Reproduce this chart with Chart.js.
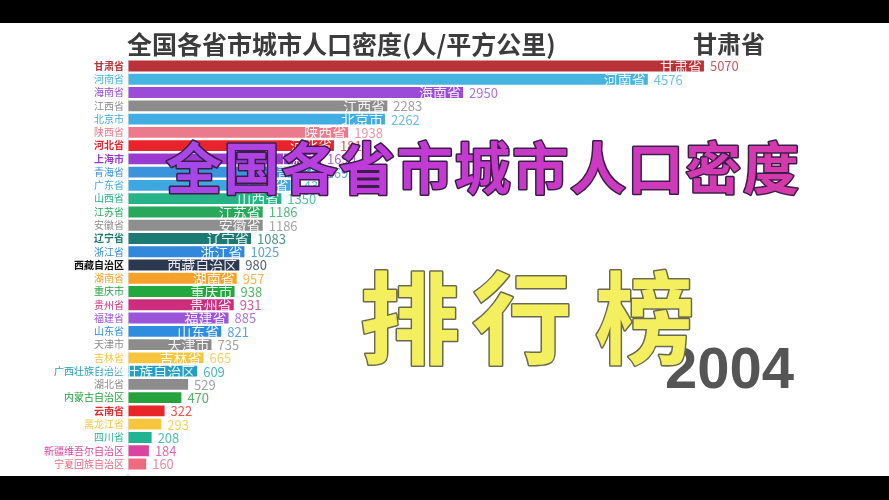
<!DOCTYPE html>
<html>
<head>
<meta charset="utf-8">
<script src="https://cdn.jsdelivr.net/npm/chart.js@4"></script>
<style>
html,body{margin:0;padding:0;background:#000;}
#wrap{position:absolute;left:0;top:0;width:889px;height:500px;}
</style>
</head>
<body>
<div id="wrap"><canvas id="c" width="889" height="500"></canvas></div>
<script>
const provinces = ['甘肃省','河南省','海南省','江西省','北京市','陕西省','河北省','上海市','青海省','广东省','山西省','江苏省','安徽省','辽宁省','浙江省','西藏自治区','湖南省','重庆市','贵州省','福建省','山东省','天津市','吉林省','广西壮族自治区','湖北省','内蒙古自治区','云南省','黑龙江省','四川省','新疆维吾尔自治区','宁夏回族自治区'];
const densities = [5070,4576,2950,2283,2262,1938,1813,1699,1695,1431,1350,1186,1186,1083,1025,980,957,938,931,885,821,735,665,609,529,470,322,293,208,184,160];
const barColors = ['#b83238','#45b4e0','#9b4bd8','#8c8c8c','#41ade3','#ea7a8c','#e8232b','#9a3ad0','#3a93dc','#3fa7e0','#25b387','#27a85b','#8e8e8e','#1d7a73','#3189dc','#2b3850','#f6a22a','#23a840','#cc2d7d','#9b55d8','#2f8de0','#8c8c8c','#f7c43d','#25a0c2','#8c8c8c','#26a23d','#e8262a','#f8c63c','#22b393','#d8449e','#ee6a80'];
const boldLabels = ['甘肃省','河北省','上海市','辽宁省','西藏自治区','云南省'];
const labelColors = barColors.map((c,i)=> provinces[i]==='西藏自治区' ? '#111111' : c);
const chartTitle = '全国各省市城市人口密度(人/平方公里)';
const leader = '甘肃省';
const yearLabel = '2004';
const overlayTop = '全国各省市城市人口密度';
const overlayBottom = '排行榜';
const tickStep = 500;
const axisMax = 5700;

const CJK = '"Noto Sans CJK SC", "Noto Sans", sans-serif';

const framePlugin = {
  id:'frame',
  beforeDraw(chart){
    const ctx = chart.ctx;
    ctx.save();
    ctx.fillStyle = '#ffffff';
    ctx.fillRect(0,0,chart.width,chart.height);
    ctx.restore();
  },
  afterDatasetsDraw(chart){
    const ctx = chart.ctx;
    const meta = chart.getDatasetMeta(0);
    ctx.save();
    meta.data.forEach((bar,i)=>{
      const v = densities[i];
      ctx.font = '13px ' + CJK;
      ctx.textAlign = 'left';
      ctx.textBaseline = 'middle';
      ctx.globalAlpha = 0.8;
      ctx.fillStyle = barColors[i];
      ctx.fillText(String(v), bar.x + 6, bar.y + 0.5);
      ctx.globalAlpha = 1;
      if (v >= 600) {
        ctx.font = '14px ' + CJK;
        ctx.textAlign = 'right';
        ctx.fillStyle = 'rgba(255,255,255,0.9)';
        ctx.fillText(provinces[i], bar.x - 2, bar.y + 0.5);
      }
    });
    ctx.restore();
  },
  afterDraw(chart){
    const ctx = chart.ctx;
    ctx.save();
    ctx.fillStyle = '#3c3c3c';
    ctx.font = 'bold 25px ' + CJK;
    ctx.textBaseline = 'middle';
    ctx.textAlign = 'left';
    ctx.fillText(chartTitle, 127, 44);
    ctx.font = 'bold 24px ' + CJK;
    ctx.textAlign = 'right';
    ctx.fillText(leader, 765, 44);
    ctx.font = 'bold 58px "Liberation Sans", Arial, sans-serif';
    ctx.textAlign = 'right';
    ctx.textBaseline = 'alphabetic';
    ctx.fillStyle = '#555555';
    ctx.fillText(yearLabel, 794, 388);
    const g = ctx.createLinearGradient(165,0,800,0);
    g.addColorStop(0,'#a24ae8');
    g.addColorStop(0.35,'#c03ad8');
    g.addColorStop(1,'#d63aa8');
    ctx.font = 'bold 56px ' + CJK;
    ctx.textAlign = 'center';
    ctx.textBaseline = 'middle';
    ctx.lineJoin = 'round';
    for (let k=0;k<overlayTop.length;k++){
      const cx = 194 + k*57.7;
      ctx.lineWidth = 3;
      ctx.strokeStyle = '#3a1d48';
      ctx.strokeText(overlayTop[k], cx, 168);
      ctx.fillStyle = g;
      ctx.fillText(overlayTop[k], cx, 168);
    }
    ctx.font = 'bold 100px ' + CJK;
    const cxs = [410, 522, 645];
    for (let k=0;k<overlayBottom.length;k++){
      ctx.lineWidth = 3;
      ctx.strokeStyle = '#6a6a50';
      ctx.strokeText(overlayBottom[k], cxs[k], 318);
      ctx.fillStyle = '#f3ef5e';
      ctx.fillText(overlayBottom[k], cxs[k], 318);
    }
    ctx.fillStyle = '#000';
    ctx.fillRect(0,0,chart.width,23);
    ctx.fillRect(0,476,chart.width,24);
    ctx.restore();
  }
};

new Chart(document.getElementById('c'), {
  type:'bar',
  data:{
    labels: provinces,
    datasets:[{
      data: densities,
      backgroundColor: barColors,
      borderWidth:0,
      barPercentage:0.82,
      categoryPercentage:1
    }]
  },
  options:{
    indexAxis:'y',
    responsive:false,
    animation:false,
    devicePixelRatio:1,
    layout:{padding:{left:0,right:113.5,top:59.4,bottom:0}},
    plugins:{legend:{display:false},tooltip:{enabled:false},title:{display:false}},
    scales:{
      x:{
        min:0, max:axisMax,
        afterFit(s){ s.height = 29.4; },
        afterBuildTicks(s){ s.ticks = s.ticks.filter(t=>t.value % tickStep === 0); },
        border:{display:false},
        grid:{color:'#e8e8e8', lineWidth:1, drawTicks:false},
        ticks:{stepSize:tickStep, color:'#cfcfcf', padding:2, font:{size:9, family:CJK}}
      },
      y:{
        afterFit(s){ s.width = 128; },
        border:{display:false},
        grid:{display:false, drawTicks:false},
        ticks:{
          padding:4,
          autoSkip:false,
          color:(c)=>labelColors[c.index],
          font:(c)=>({size:10, family:CJK, weight: boldLabels.includes(provinces[c.index]) ? 'bold' : 'normal'})
        }
      }
    }
  },
  plugins:[framePlugin]
});
</script>
</body>
</html>
